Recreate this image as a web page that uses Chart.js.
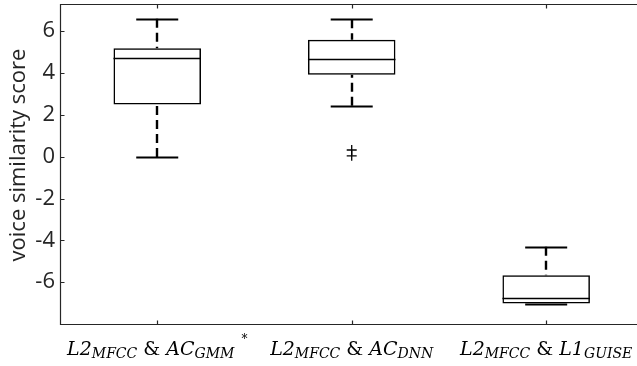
<!DOCTYPE html>
<html>
<head>
<meta charset="utf-8">
<script src="https://cdn.jsdelivr.net/npm/chart.js@4.4.1/dist/chart.umd.min.js"></script>
<style>
  html, body { margin: 0; padding: 0; background: #fff; overflow: hidden; }
  #wrap { width: 637px; height: 366px; }
</style>
</head>
<body>
<div id="wrap"><canvas id="c" width="637" height="366"></canvas></div>
<script>
// Category labels: _{...} is a subscript, ^{...} a superscript
const categories = [
  'L2_{MFCC} & AC_{GMM}^{*}',
  'L2_{MFCC} & AC_{DNN}',
  'L2_{MFCC} & L1_{GUISE}'
];

// Box statistics per category
const whiskerLow  = [-0.02, 2.44, -7.02];
const q1          = [2.50, 3.92, -7.02];
const medians     = [4.70, 4.66, -6.78];
const q3          = [5.18, 5.59, -5.67];
const whiskerHigh = [6.60, 6.57, -4.31];
const outliers    = [[], [0.32, 0.04], []];

// Axes: groups sit at 1, 2, 3; the view ends just short of the right border
const xMin = 0.5;
const xMax = 3.467;
const yTicks = [-6, -4, -2, 0, 2, 4, 6];
const yMin = -8;
const yMax = 7.3;
const yTitle = 'voice similarity score';

const AXIS = '#262626';
const SANS = '"Open Sans", sans-serif';
const SERIF = '"DejaVu Serif", serif';

const positions = categories.map((c, i) => i + 1);

function parseLabel(s) {
  const parts = [];
  const re = /_\{([^}]*)\}|\^\{([^}]*)\}|([^_^]+)/g;
  let m;
  while ((m = re.exec(s))) {
    if (m[1] !== undefined) parts.push({ text: m[1], kind: 'sub' });
    else if (m[2] !== undefined) parts.push({ text: m[2], kind: 'sup' });
    else m[3].split(/( & )/).forEach(t => {
      if (t) parts.push({ text: t, kind: t === ' & ' ? 'up' : 'it' });
    });
  }
  return parts;
}

const labelStyle = {
  it:  { font: 'italic 19px ' + SERIF, dy: 0, gap: 0 },
  up:  { font: '19px ' + SERIF, dy: 0, gap: 0 },
  sub: { font: 'italic 14px ' + SERIF, dy: 3, gap: 0 },
  sup: { font: '12px ' + SERIF, dy: -12, gap: 7 }
};

// Whiskers, caps and medians drawn around the floating bars
const boxPlotPlugin = {
  id: 'boxPlot',
  beforeDatasetsDraw(chart) {
    const ctx = chart.ctx, ys = chart.scales.y;
    const meta = chart.getDatasetMeta(0);
    ctx.save();
    ctx.strokeStyle = '#000';
    ctx.lineWidth = 2.4;
    ctx.setLineDash([9, 5]);
    meta.data.forEach((bar, i) => {
      const x = Math.round(bar.x);
      ctx.beginPath();
      ctx.moveTo(x, ys.getPixelForValue(whiskerHigh[i]));
      ctx.lineTo(x, ys.getPixelForValue(q3[i]));
      ctx.moveTo(x, ys.getPixelForValue(whiskerLow[i]));
      ctx.lineTo(x, ys.getPixelForValue(q1[i]));
      ctx.stroke();
    });
    ctx.restore();
  },
  afterDatasetsDraw(chart) {
    const ctx = chart.ctx, ys = chart.scales.y;
    const meta = chart.getDatasetMeta(0);
    ctx.save();
    ctx.strokeStyle = '#000';
    meta.data.forEach((bar, i) => {
      const x = bar.x, half = bar.width / 2, cap = bar.width * 0.24;
      ctx.lineWidth = 1.8;
      ctx.beginPath();
      [whiskerHigh[i], whiskerLow[i]].forEach(v => {
        const y = Math.round(ys.getPixelForValue(v)) + 0.5;
        ctx.moveTo(x - cap, y);
        ctx.lineTo(x + cap, y);
      });
      ctx.stroke();
      ctx.lineWidth = 1.5;
      const ym = Math.round(ys.getPixelForValue(medians[i])) + 0.5;
      ctx.beginPath();
      ctx.moveTo(x - half, ym);
      ctx.lineTo(x + half, ym);
      ctx.stroke();
    });
    ctx.restore();
  }
};

// Axis lines, inward tick marks, rich x labels and the y title
const framePlugin = {
  id: 'frame',
  afterDraw(chart) {
    const ctx = chart.ctx, a = chart.chartArea;
    const xs = chart.scales.x, ys = chart.scales.y;
    const L = Math.round(a.left) + 0.5, R = a.right;
    const T = Math.round(a.top) + 0.5, B = Math.round(a.bottom) + 0.5;
    ctx.save();
    ctx.strokeStyle = AXIS;
    ctx.lineWidth = 1.2;
    ctx.beginPath();
    ctx.moveTo(R, T); ctx.lineTo(L, T); ctx.lineTo(L, B); ctx.lineTo(R, B);
    yTicks.forEach(v => {
      const y = Math.round(ys.getPixelForValue(v)) + 0.5;
      ctx.moveTo(L, y); ctx.lineTo(L + 4, y);
    });
    positions.forEach(p => {
      const x = Math.round(xs.getPixelForValue(p)) + 0.5;
      ctx.moveTo(x, B); ctx.lineTo(x, B - 4);
      ctx.moveTo(x, T); ctx.lineTo(x, T + 4);
    });
    ctx.stroke();

    // category labels
    ctx.fillStyle = '#000';
    ctx.textBaseline = 'alphabetic';
    ctx.textAlign = 'left';
    categories.forEach((c, i) => {
      const parts = parseLabel(c);
      let total = 0;
      parts.forEach(p => {
        ctx.font = labelStyle[p.kind].font;
        p.w = ctx.measureText(p.text).width;
        total += p.w + labelStyle[p.kind].gap;
      });
      let x = xs.getPixelForValue(positions[i]) - total / 2;
      const base = 355;
      parts.forEach(p => {
        const st = labelStyle[p.kind];
        ctx.font = st.font;
        x += st.gap;
        ctx.fillText(p.text, x, base + st.dy);
        x += p.w;
      });
    });

    // y title
    ctx.fillStyle = AXIS;
    ctx.font = '22px ' + SANS;
    ctx.textAlign = 'center';
    ctx.textBaseline = 'middle';
    ctx.translate(19, 155);
    ctx.rotate(-Math.PI / 2);
    ctx.fillText(yTitle, 0, 0);
    ctx.restore();
  }
};

const outlierPoints = [];
outliers.forEach((vals, i) => vals.forEach(v => outlierPoints.push({ x: positions[i], y: v })));

new Chart(document.getElementById('c'), {
  type: 'bar',
  data: {
    datasets: [
      {
        label: 'box',
        data: positions.map((p, i) => ({ x: p, y: [q1[i], q3[i]] })),
        backgroundColor: 'rgba(255,255,255,0)',
        borderColor: '#000',
        borderWidth: 1.5,
        borderSkipped: false,
        barPercentage: 0.45,
        categoryPercentage: 1
      },
      {
        type: 'line',
        label: 'outliers',
        data: outlierPoints,
        showLine: false,
        pointStyle: 'cross',
        pointRadius: 5,
        pointBorderWidth: 1.3,
        borderColor: '#000',
        backgroundColor: '#000'
      }
    ]
  },
  options: {
    responsive: false,
    animation: false,
    devicePixelRatio: 1,
    layout: { autoPadding: false, padding: { left: 0, right: 0, top: 4, bottom: 0 } },
    plugins: { legend: { display: false }, tooltip: { enabled: false } },
    scales: {
      x: {
        type: 'linear',
        min: xMin,
        max: xMax,
        offset: false,
        grid: { display: false, drawTicks: false },
        border: { display: false },
        ticks: { display: false },
        afterBuildTicks(scale) { scale.ticks = positions.map(v => ({ value: v })); },
        afterFit(scale) {
          scale.height = 42;
          scale.paddingLeft = 0; scale.paddingRight = 0;
        }
      },
      y: {
        min: yMin,
        max: yMax,
        grid: { display: false, drawTicks: false },
        border: { display: false },
        ticks: { color: AXIS, font: { family: SANS, size: 22 }, padding: 5 },
        afterBuildTicks(scale) { scale.ticks = yTicks.map(v => ({ value: v })); },
        afterFit(scale) {
          scale.width = 60;
          scale.paddingTop = 0; scale.paddingBottom = 0;
        }
      }
    }
  },
  plugins: [boxPlotPlugin, framePlugin]
});
</script>
</body>
</html>
